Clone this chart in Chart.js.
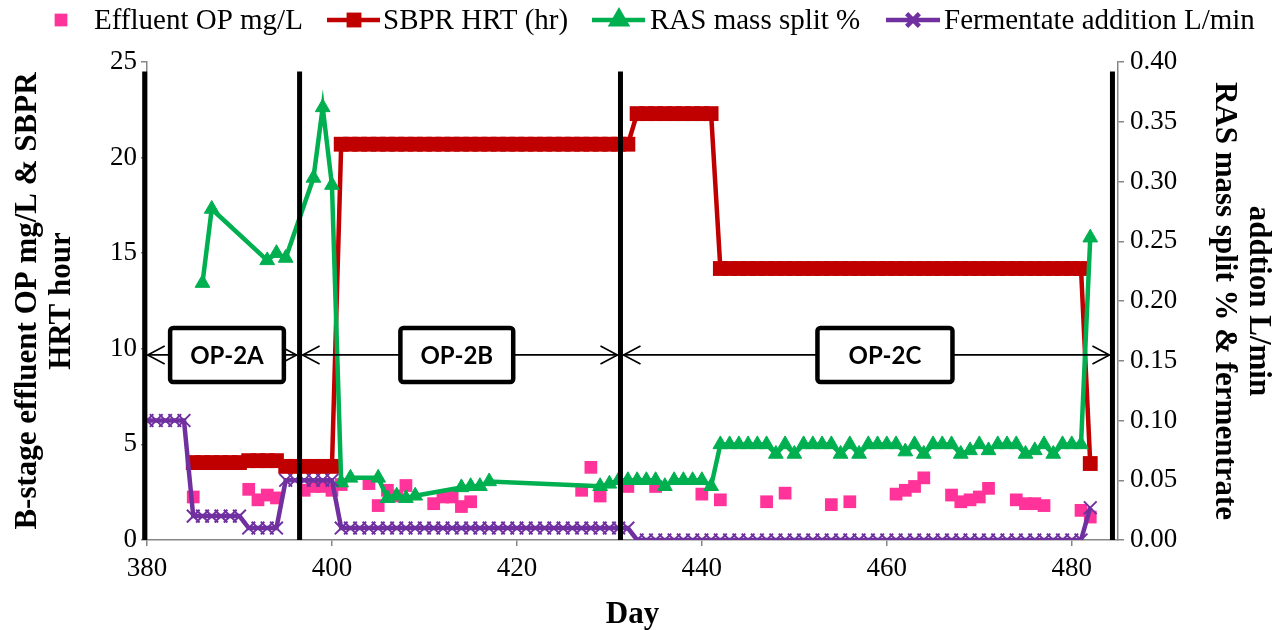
<!DOCTYPE html>
<html>
<head>
<meta charset="utf-8">
<title>B-stage effluent OP, SBPR HRT, RAS split and fermentate</title>
<script src="https://cdn.jsdelivr.net/npm/chart.js@4.4.1/dist/chart.umd.min.js"></script>
<style>
    html, body { margin: 0; padding: 0; background: #fff; }
    #wrap { width: 1281px; height: 630px; }
</style>
</head>
<body>
<div id="wrap"><canvas id="opChart" width="1281" height="630"></canvas></div>
<script>
// Effluent OP (mg/L), sampled days only
const opDays = [385, 391, 392, 393, 394, 397, 398, 399, 400, 401,
    404, 405, 406, 407, 408, 411, 412, 413, 414, 415,
    427, 428, 429, 432, 435, 440, 442, 447, 449, 454,
    456, 461, 462, 463, 464, 467, 468, 469, 470, 471,
    474, 475, 476, 477, 481, 482];
const opValues = [2.25, 2.65, 2.1, 2.35, 2.2, 2.6, 2.8, 2.8, 2.6, 2.9,
    2.95, 1.8, 2.6, 2.3, 2.85, 1.9, 2.25, 2.25, 1.75, 2.0,
    2.6, 3.8, 2.3, 2.8, 2.8, 2.4, 2.1, 2.0, 2.45, 1.85,
    2.0, 2.4, 2.6, 2.8, 3.25, 2.35, 2.0, 2.1, 2.25, 2.7,
    2.1, 1.9, 1.9, 1.8, 1.55, 1.2];

// daily series: SBPR HRT (hr) and fermentate addition (L/min)
const dailyDays = [380, 381, 382, 383, 384, 385, 386, 387, 388, 389,
    390, 391, 392, 393, 394, 395, 396, 397, 398, 399,
    400, 401, 402, 403, 404, 405, 406, 407, 408, 409,
    410, 411, 412, 413, 414, 415, 416, 417, 418, 419,
    420, 421, 422, 423, 424, 425, 426, 427, 428, 429,
    430, 431, 432, 433, 434, 435, 436, 437, 438, 439,
    440, 441, 442, 443, 444, 445, 446, 447, 448, 449,
    450, 451, 452, 453, 454, 455, 456, 457, 458, 459,
    460, 461, 462, 463, 464, 465, 466, 467, 468, 469,
    470, 471, 472, 473, 474, 475, 476, 477, 478, 479,
    480, 481, 482];
const hrtValues = [null, null, null, null, null, 4.05, 4.05, 4.05, 4.05, 4.05,
    4.05, 4.15, 4.15, 4.15, 4.15, 3.85, 3.85, 3.85, 3.85, 3.85,
    3.85, 20.7, 20.7, 20.7, 20.7, 20.7, 20.7, 20.7, 20.7, 20.7,
    20.7, 20.7, 20.7, 20.7, 20.7, 20.7, 20.7, 20.7, 20.7, 20.7,
    20.7, 20.7, 20.7, 20.7, 20.7, 20.7, 20.7, 20.7, 20.7, 20.7,
    20.7, 20.7, 20.7, 22.3, 22.3, 22.3, 22.3, 22.3, 22.3, 22.3,
    22.3, 22.3, 14.2, 14.2, 14.2, 14.2, 14.2, 14.2, 14.2, 14.2,
    14.2, 14.2, 14.2, 14.2, 14.2, 14.2, 14.2, 14.2, 14.2, 14.2,
    14.2, 14.2, 14.2, 14.2, 14.2, 14.2, 14.2, 14.2, 14.2, 14.2,
    14.2, 14.2, 14.2, 14.2, 14.2, 14.2, 14.2, 14.2, 14.2, 14.2,
    14.2, 14.2, 4.0];
const fermValues = [0.10, 0.10, 0.10, 0.10, 0.10, 0.02, 0.02, 0.02, 0.02, 0.02,
    0.02, 0.01, 0.01, 0.01, 0.01, 0.05, 0.05, 0.05, 0.05, 0.05,
    0.05, 0.01, 0.01, 0.01, 0.01, 0.01, 0.01, 0.01, 0.01, 0.01,
    0.01, 0.01, 0.01, 0.01, 0.01, 0.01, 0.01, 0.01, 0.01, 0.01,
    0.01, 0.01, 0.01, 0.01, 0.01, 0.01, 0.01, 0.01, 0.01, 0.01,
    0.01, 0.01, 0.01, 0, 0, 0, 0, 0, 0, 0,
    0, 0, 0, 0, 0, 0, 0, 0, 0, 0,
    0, 0, 0, 0, 0, 0, 0, 0, 0, 0,
    0, 0, 0, 0, 0, 0, 0, 0, 0, 0,
    0, 0, 0, 0, 0, 0, 0, 0, 0, 0,
    0, 0, 0.027];

// RAS mass split (%)
const rasDays = [386, 387, 393, 394, 395, 398, 399, 400, 401, 402,
    405, 406, 407, 408, 409, 414, 415, 416, 417, 429,
    430, 431, 432, 433, 434, 435, 436, 437, 438, 439,
    440, 441, 442, 443, 444, 445, 446, 447, 448, 449,
    450, 451, 452, 453, 454, 455, 456, 457, 458, 459,
    460, 461, 462, 463, 464, 465, 466, 467, 468, 469,
    470, 471, 472, 473, 474, 475, 476, 477, 478, 479,
    480, 481, 482];
const rasValues = [0.215, 0.277, 0.234, 0.240, 0.236, 0.303, 0.362, 0.297, 0.048, 0.052,
    0.052, 0.035, 0.037, 0.035, 0.037, 0.044, 0.045, 0.045, 0.049, 0.045,
    0.047, 0.05, 0.05, 0.05, 0.05, 0.05, 0.045, 0.05, 0.05, 0.05,
    0.05, 0.045, 0.08, 0.08, 0.08, 0.08, 0.08, 0.08, 0.072, 0.08,
    0.072, 0.08, 0.08, 0.08, 0.08, 0.072, 0.08, 0.072, 0.08, 0.08,
    0.08, 0.08, 0.074, 0.08, 0.072, 0.08, 0.08, 0.08, 0.072, 0.075,
    0.08, 0.075, 0.08, 0.08, 0.08, 0.072, 0.075, 0.08, 0.072, 0.08,
    0.08, 0.08, 0.253];

// operating phases
const phaseNames = ['OP-2A', 'OP-2B', 'OP-2C'];
const phaseBounds = [379.75, 396.5, 431.2, 484.4];

const serif = "'Liberation Serif', 'Times New Roman', serif";
const tickFont = { family: serif, size: 27 };
const titleFont = { family: serif, size: 31, weight: 'bold', lineHeight: 1.1 };

// where the annotations sit, in axis units
const marks = {
    lineTop: 24.5,
    arrowAt: 9.68,
    boxTop: 11.09,
    boxBottom: 8.26,
    boxes: [[382.5, 394.8], [407.4, 419.6], [452.5, 467.1]]
};

function pairUp(days, values) {
    return days.map((d, i) => ({ x: d, y: values[i] }));
}

function arrowHead(ctx, px, py, dir) {
    ctx.beginPath();
    ctx.moveTo(px + dir * 17, py - 9);
    ctx.lineTo(px, py);
    ctx.lineTo(px + dir * 17, py + 9);
    ctx.stroke();
}

const phasePlugin = {
    id: 'phaseMarks',
    afterDatasetsDraw(chart) {
        const { ctx, scales: { x, y } } = chart;
        const ay = y.getPixelForValue(marks.arrowAt);
        ctx.save();
        ctx.strokeStyle = '#000';
        ctx.lineWidth = 1.6;
        phaseNames.forEach((name, i) => {
            const x0 = x.getPixelForValue(phaseBounds[i]) + 3;
            const x1 = x.getPixelForValue(phaseBounds[i + 1]) - 3;
            ctx.beginPath();
            ctx.moveTo(x0, ay);
            ctx.lineTo(x1, ay);
            ctx.stroke();
            arrowHead(ctx, x0, ay, 1);
            arrowHead(ctx, x1, ay, -1);
        });

        // label boxes
        const bt = y.getPixelForValue(marks.boxTop);
        const bb = y.getPixelForValue(marks.boxBottom);
        ctx.lineWidth = 4.5;
        ctx.font = "bold 24px Lato, 'Open Sans', sans-serif";
        ctx.textAlign = 'center';
        ctx.textBaseline = 'middle';
        marks.boxes.forEach((b, i) => {
            const bl = x.getPixelForValue(b[0]);
            const br = x.getPixelForValue(b[1]);
            ctx.beginPath();
            ctx.roundRect(bl, bt, br - bl, bb - bt, 3);
            ctx.fillStyle = '#fff';
            ctx.fill();
            ctx.stroke();
            ctx.fillStyle = '#000';
            ctx.fillText(phaseNames[i], (bl + br) / 2, (bt + bb) / 2 + 1);
        });

        // phase boundary lines
        const top = y.getPixelForValue(marks.lineTop);
        const bottom = y.getPixelForValue(0);
        ctx.lineWidth = 5;
        phaseBounds.forEach(d => {
            const px = x.getPixelForValue(d);
            ctx.beginPath();
            ctx.moveTo(px, top);
            ctx.lineTo(px, bottom);
            ctx.stroke();
        });
        ctx.restore();
    }
};

// legend in one row across the top, like the spreadsheet one
const legendSpots = [
    { mark: 61, text: 94 },
    { mark: 354, text: 383, from: 327, to: 380 },
    { mark: 619, text: 650, from: 592, to: 645 },
    { mark: 913, text: 944, from: 886, to: 940 }
];

const legendPlugin = {
    id: 'topLegend',
    afterDraw(chart) {
        const ctx = chart.ctx;
        const ly = 20;
        ctx.save();
        chart.data.datasets.forEach((ds, i) => {
            const spot = legendSpots[i];
            if (spot.from !== undefined) {
                ctx.strokeStyle = ds.borderColor;
                ctx.lineWidth = ds.borderWidth;
                ctx.beginPath();
                ctx.moveTo(spot.from, ly);
                ctx.lineTo(spot.to, ly);
                ctx.stroke();
            }
            ctx.fillStyle = ds.pointBackgroundColor;
            ctx.strokeStyle = ds.pointBorderColor;
            Chart.helpers.drawPoint(ctx, {
                pointStyle: ds.pointStyle,
                radius: ds.pointRadius,
                borderWidth: ds.pointBorderWidth,
                rotation: 0
            }, spot.mark, ly);
            ctx.fillStyle = '#000';
            ctx.font = '29px ' + serif;
            ctx.textAlign = 'left';
            ctx.textBaseline = 'middle';
            ctx.fillText(ds.label, spot.text, ly + 1);
        });
        ctx.restore();
    }
};

const axisGrid = { display: true, drawOnChartArea: false, drawTicks: true, tickLength: 6, color: '#868686', lineWidth: 1.5 };
const axisBorder = { display: true, color: '#868686', width: 1.5 };

const chartContext = document.getElementById('opChart').getContext('2d');
const opChart = new Chart(chartContext, {
    type: 'line',
    data: {
        datasets: [{
            label: 'Effluent OP mg/L',
            data: pairUp(opDays, opValues),
            yAxisID: 'y',
            showLine: false,
            pointStyle: 'rect',
            pointRadius: 9,
            pointBorderWidth: 0,
            pointBackgroundColor: '#FF3399',
            pointBorderColor: '#FF3399',
            borderColor: '#FF3399',
            order: 4
        }, {
            label: 'SBPR HRT (hr)',
            data: pairUp(dailyDays, hrtValues),
            yAxisID: 'y',
            borderColor: '#C00000',
            borderWidth: 4.5,
            pointStyle: 'rect',
            pointRadius: 10.5,
            pointBorderWidth: 0,
            pointBackgroundColor: '#C00000',
            pointBorderColor: '#C00000',
            order: 3
        }, {
            label: 'RAS mass split %',
            data: pairUp(rasDays, rasValues),
            yAxisID: 'y1',
            borderColor: '#00B050',
            borderWidth: 4.5,
            pointStyle: 'triangle',
            pointRadius: 8.5,
            pointBorderWidth: 1,
            pointBackgroundColor: '#00B050',
            pointBorderColor: '#00B050',
            order: 2
        }, {
            label: 'Fermentate addition L/min',
            data: pairUp(dailyDays, fermValues),
            yAxisID: 'y1',
            borderColor: '#7030A0',
            borderWidth: 4.5,
            pointStyle: 'crossRot',
            pointRadius: 9,
            pointBorderWidth: 2,
            pointBackgroundColor: '#7030A0',
            pointBorderColor: '#7030A0',
            order: 1
        }]
    },
    options: {
        responsive: false,
        animation: false,
        layout: { padding: { top: 62, left: 0, right: 0, bottom: 0 } },
        elements: { line: { tension: 0 } },
        plugins: { legend: { display: false }, tooltip: { enabled: false } },
        scales: {
            x: {
                type: 'linear',
                min: 380,
                max: 485,
                ticks: { stepSize: 20, includeBounds: false, font: tickFont, color: '#000', padding: 7 },
                grid: axisGrid,
                border: axisBorder,
                title: { display: true, text: 'Day', font: { family: serif, size: 31, weight: 'bold', lineHeight: 1.0 }, color: '#000', padding: { top: 0, bottom: 0 } },
                afterFit: s => { s.height = 90; }
            },
            y: {
                position: 'left',
                min: 0,
                max: 25,
                ticks: { stepSize: 5, font: tickFont, color: '#000', padding: 4 },
                grid: axisGrid,
                border: axisBorder,
                title: { display: true, text: ['B-stage effluent OP mg/L & SBPR', 'HRT hour'], font: titleFont, color: '#000', padding: { top: 11, bottom: 0 } },
                afterFit: s => { s.width = 147; }
            },
            y1: {
                position: 'right',
                min: 0,
                max: 0.4,
                ticks: { stepSize: 0.05, font: tickFont, color: '#000', padding: 6, callback: v => v.toFixed(2) },
                grid: axisGrid,
                border: axisBorder,
                title: { display: true, text: ['addtion L/min', 'RAS mass split % & fermentrate'], font: titleFont, color: '#000', padding: { top: 6, bottom: 0 } },
                afterFit: s => { s.width = 163; }
            }
        }
    },
    plugins: [phasePlugin, legendPlugin]
});
</script>
</body>
</html>
